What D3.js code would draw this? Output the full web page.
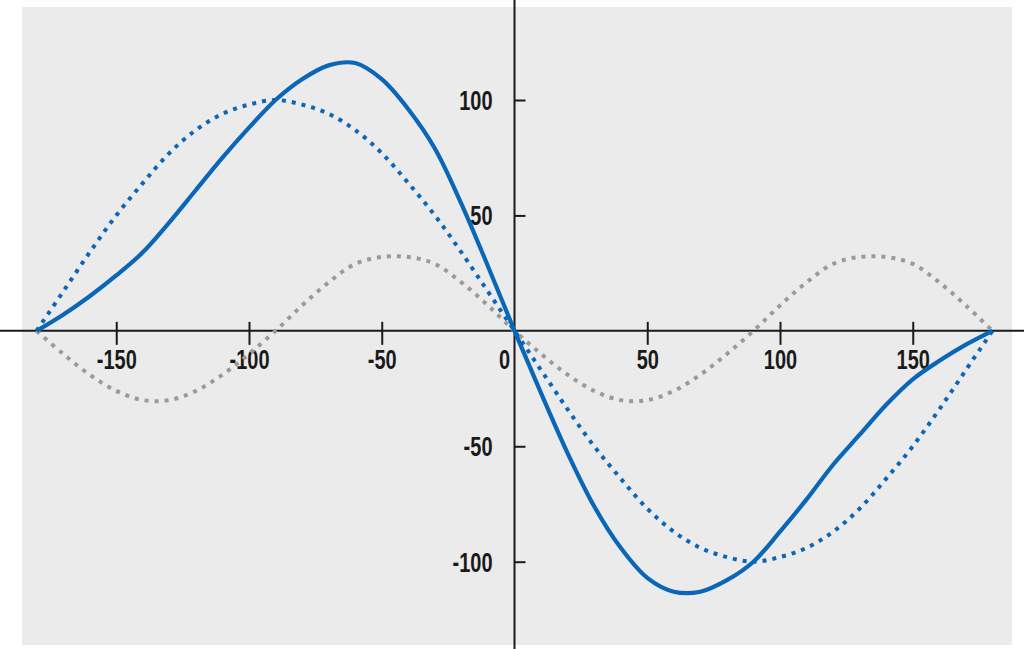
<!DOCTYPE html>
<html>
<head>
<meta charset="utf-8">
<script src="https://cdn.jsdelivr.net/npm/d3@7"></script>
<style>
  body { margin: 0; background: #fff; }
  svg { display: block; }
  .tick text { font-family: "Liberation Sans", sans-serif; font-weight: bold; font-size: 27px; fill: #1a1a1a; }
</style>
</head>
<body>
<script>
// angle in degrees
var angles = [-180, -170, -160, -150, -140, -130, -120, -110, -100, -90,
  -80, -70, -60, -50, -40, -30, -20, -10, 0, 10, 20, 30, 40, 50, 60,
  70, 80, 90, 100, 110, 120, 130, 140, 150, 160, 170, 180];

// solid blue
var total = [0, 7, 15, 24, 34, 47, 61, 75, 88, 100,
  109, 115, 116, 109, 96, 79, 55, 28, 0, -27, -53, -76, -94, -107, -113,
  -113, -108, -100, -87, -73, -58, -45, -32, -21, -13, -6, 0];

// dotted blue
var first = [0, 17, 34, 50, 64, 77, 87, 94, 98, 100,
  98, 94, 87, 77, 64, 50, 34, 17, 0, -17, -34, -50, -64, -77, -87,
  -94, -98, -100, -98, -94, -87, -77, -64, -50, -34, -17, 0];

// dotted grey
var second = [0, -10, -19, -26, -30, -30, -26, -19, -10, 0,
  11, 21, 29, 32, 32, 29, 21, 11, 0, -10, -19, -26, -30, -30, -26,
  -19, -10, 0, 11, 21, 29, 32, 32, 29, 21, 11, 0];

var xTicks = [-150, -100, -50, 50, 100, 150];
var yTicks = [-100, -50, 50, 100];

var width = 1024, height = 649;
var squeeze = 0.74; // labels are a condensed face in the original

var svg = d3.select("body")
    .append("svg")
    .attr("width", width)
    .attr("height", height);

svg.append("rect")
    .attr("x", 22)
    .attr("y", 7)
    .attr("width", 990)
    .attr("height", 638)
    .attr("fill", "#ebebeb");

var x = d3.scaleLinear().domain([-180, 180]).range([36.6, 992.4]);
var y = d3.scaleLinear().domain([-100, 100]).range([561.7, 100]);

// axis lines run past the grey panel
svg.append("line")
    .attr("x1", 0).attr("x2", width)
    .attr("y1", y(0)).attr("y2", y(0))
    .attr("stroke", "#1a1a1a").attr("stroke-width", 2);

svg.append("line")
    .attr("x1", x(0)).attr("x2", x(0))
    .attr("y1", 0).attr("y2", height)
    .attr("stroke", "#1a1a1a").attr("stroke-width", 2);

var fmt = function(d) { return String(d); };

var gx = svg.append("g")
    .attr("transform", "translate(0," + y(0) + ")")
    .call(d3.axisBottom(x).tickValues(xTicks).tickSize(14).tickFormat(fmt));
gx.select(".domain").remove();
gx.selectAll(".tick line").attr("y1", -9).attr("stroke", "#1a1a1a").attr("stroke-width", 2);
gx.selectAll(".tick text")
    .attr("y", 0)
    .attr("dy", "0.35em")
    .attr("transform", "translate(0,29) scale(" + squeeze + ",1)");

var gy = svg.append("g")
    .attr("transform", "translate(" + x(0) + ",0)")
    .call(d3.axisLeft(y).tickValues(yTicks).tickSize(17).tickFormat(fmt));
gy.select(".domain").remove();
gy.selectAll(".tick line").attr("x2", 11).attr("stroke", "#1a1a1a").attr("stroke-width", 2);
gy.selectAll(".tick text")
    .attr("x", 0)
    .attr("dy", "0.35em")
    .attr("transform", "translate(-22,0) scale(" + squeeze + ",1)");

// the zero label sits left of the vertical axis
var zero = svg.append("g").attr("class", "tick");
zero.append("text")
    .attr("dy", "0.35em")
    .attr("text-anchor", "middle")
    .attr("transform", "translate(" + (x(0) - 10) + "," + (y(0) + 29) + ") scale(" + squeeze + ",1)")
    .text("0");

function makeLine(vals) {
    return d3.line()
        .x(function(d, i) { return x(angles[i]); })
        .y(function(d) { return y(d); })
        .curve(d3.curveCatmullRom.alpha(0.5))(vals);
}

svg.append("path")
    .attr("d", makeLine(second))
    .attr("fill", "none")
    .attr("stroke", "#9a9a9a")
    .attr("stroke-width", 4)
    .attr("stroke-dasharray", "4,6");

svg.append("path")
    .attr("d", makeLine(first))
    .attr("fill", "none")
    .attr("stroke", "#0a66b6")
    .attr("stroke-width", 4)
    .attr("stroke-dasharray", "4,6");

svg.append("path")
    .attr("d", makeLine(total))
    .attr("fill", "none")
    .attr("stroke", "#0a66b6")
    .attr("stroke-width", 4.2);
</script>
</body>
</html>
